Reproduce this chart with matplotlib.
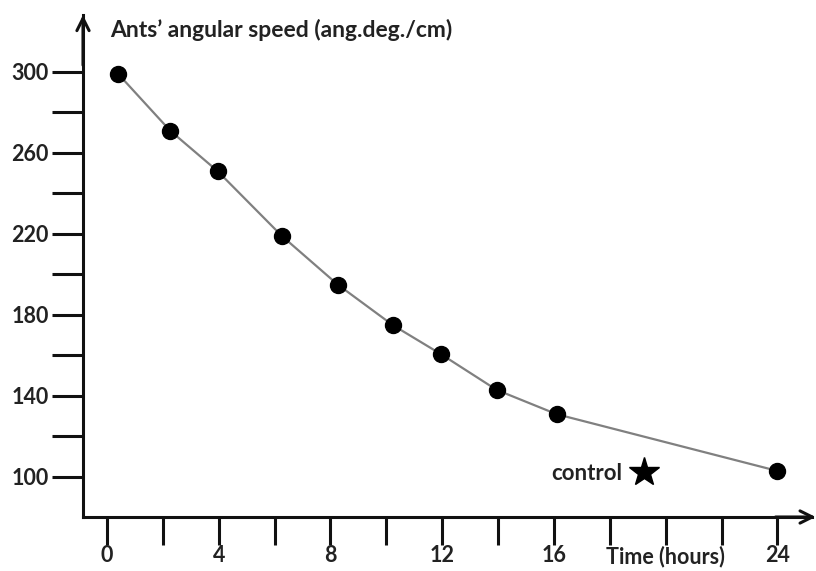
import matplotlib
matplotlib.use('Agg')
import matplotlib.pyplot as plt
from matplotlib.ticker import FixedLocator

plt.rcParams['font.family'] = ['Lato', 'DejaVu Sans']
plt.rcParams['font.weight'] = 'bold'

# data
hours = [0.4, 2.26, 3.96, 6.26, 8.26, 10.23, 11.95, 13.95, 16.1, 24.0]
speed = [299, 271, 251, 219, 195, 175, 160.7, 143, 131, 103]
control_x = [19.23]
control_y = [102.6]

y_major = [100, 140, 180, 220, 260, 300]
y_minor = [120, 160, 200, 240, 280]
x_major = [0, 4, 8, 12, 16, 20, 24]
x_labels = ['0', '4', '8', '12', '16', 'Time (hours)', '24']
x_minor = [2, 6, 10, 14, 18, 22]

fig = plt.figure(figsize=(8.16, 5.71), dpi=100)
ax = fig.add_axes([83 / 816, 54 / 571, 729 / 816, 502 / 571])

ax.plot(hours, speed, color='#808080', lw=1.6, zorder=2)
ax.plot(hours, speed, 'o', color='black', ms=11.5, zorder=3)
ax.plot(control_x, control_y, '*', color='black', ms=22, zorder=3)
ax.text(18.45, 101.5, 'control', ha='right', va='center', fontsize=16,
        color='#222222')

ax.set_xlim(-0.86, 25.24)
ax.set_ylim(80.25, 328.1)

for s in ['top', 'right']:
    ax.spines[s].set_visible(False)
for s in ['left', 'bottom']:
    ax.spines[s].set_linewidth(2.2)
    ax.spines[s].set_color('#111111')

ax.yaxis.set_major_locator(FixedLocator(y_major))
ax.yaxis.set_minor_locator(FixedLocator(y_minor))
ax.xaxis.set_major_locator(FixedLocator(x_major))
ax.xaxis.set_minor_locator(FixedLocator(x_minor))
ax.set_xticklabels(x_labels)

ax.tick_params(which='both', direction='out', length=22, width=2.2,
               color='#111111', labelsize=15.5, labelcolor='#222222')
ax.tick_params(axis='y', which='both', pad=2.5)
ax.tick_params(axis='x', which='both', length=20, pad=0.5)

# arrow heads on the axes
arrow = dict(arrowstyle='->', lw=2.2, color='#111111', mutation_scale=22,
             shrinkA=0, shrinkB=0)
ax.annotate('', xy=(0, 1.0), xytext=(0, 0.9), xycoords='axes fraction',
            textcoords='axes fraction', arrowprops=arrow, annotation_clip=False)
ax.annotate('', xy=(1.005, 0), xytext=(0.95, 0), xycoords='axes fraction',
            textcoords='axes fraction', arrowprops=arrow, annotation_clip=False)

fig.text(110 / 816, (571 - 37) / 571, 'Ants\u2019 angular speed (ang.deg./cm)',
         ha='left', va='baseline', fontsize=16.5, color='#222222')

fig.savefig('out.png', dpi=100)
